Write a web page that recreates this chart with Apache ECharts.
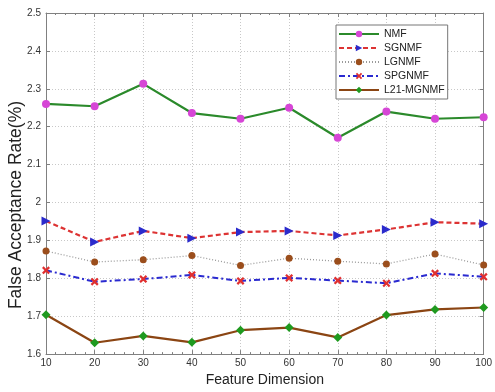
<!DOCTYPE html>
<html>
<head>
<meta charset="utf-8">
<script src="https://cdn.jsdelivr.net/npm/echarts@6/dist/echarts.min.js"></script>
<style>html,body{margin:0;padding:0;background:#fff;}#c{width:495px;height:392px;}</style>
</head>
<body>
<div id="c"></div>
<script>
const dims = [10, 20, 30, 40, 50, 60, 70, 80, 90, 100];
const nmf    = [2.260, 2.254, 2.313, 2.236, 2.221, 2.250, 2.171, 2.240, 2.221, 2.225];
const sgnmf  = [1.951, 1.896, 1.925, 1.906, 1.922, 1.925, 1.913, 1.929, 1.948, 1.944];
const lgnmf  = [1.872, 1.843, 1.849, 1.860, 1.834, 1.853, 1.845, 1.838, 1.864, 1.835];
const spgnmf = [1.821, 1.791, 1.798, 1.809, 1.793, 1.801, 1.794, 1.787, 1.813, 1.804];
const l21    = [1.704, 1.630, 1.648, 1.631, 1.663, 1.670, 1.644, 1.703, 1.718, 1.723];
const names  = ['NMF', 'SGNMF', 'LGNMF', 'SPGNMF', 'L21-MGNMF'];
const yTicks = [1.6, 1.7, 1.8, 1.9, 2, 2.1, 2.2, 2.3, 2.4, 2.5];
const xTitle = 'Feature Dimension';
const yTitle = 'False Acceptance Rate(%)';

const pair = arr => dims.map((d, i) => [d, arr[i]]);
const crossPath = 'path://M0,2 L2,0 L5,3 L8,0 L10,2 L7,5 L10,8 L8,10 L5,7 L2,10 L0,8 L3,5 Z';
const FONT = 'Liberation Sans, Arial, sans-serif';

const chart = echarts.init(document.getElementById('c'));
const axisCommon = {
  axisLine: { show: true, lineStyle: { color: '#808080', width: 1 } },
  axisTick: { show: true, inside: true, length: 4, lineStyle: { color: '#808080' } },
  minorTick: { show: true, splitNumber: 5, length: 2, lineStyle: { color: '#808080' } }
};
chart.setOption({
  animation: false,
  backgroundColor: '#fff',
  grid: { left: 46, right: 9, top: 13, bottom: 35 },
  legend: {
    orient: 'vertical', left: 336, top: 25,
    itemWidth: 40, itemHeight: 8, itemGap: 0,
    backgroundColor: '#fff', borderColor: '#777', borderWidth: 1,
    padding: [2, 3, 2, 2],
    textStyle: { fontFamily: FONT, fontSize: 10.5, color: '#222', lineHeight: 14 },
    data: names
  },
  graphic: [{
    type: 'text', x: 16, y: 205, rotation: Math.PI / 2,
    style: { text: yTitle, font: '17.5px ' + FONT, fill: '#222', textAlign: 'center', textVerticalAlign: 'middle' }
  }],
  xAxis: [{
    type: 'value', min: 10, max: 100, interval: 10,
    name: xTitle, nameLocation: 'middle', nameGap: 18,
    nameTextStyle: { fontFamily: FONT, fontSize: 14, color: '#222' },
    axisLabel: { fontFamily: FONT, fontSize: 10, color: '#333', margin: 4 },
    splitLine: { show: true, lineStyle: { color: '#c8c8c8', type: [1, 2] } },
    ...axisCommon
  }, {
    type: 'value', min: 10, max: 100, interval: 10, position: 'top',
    axisLabel: { show: false }, splitLine: { show: false },
    ...axisCommon
  }],
  yAxis: [{
    type: 'value', min: 1.6, max: 2.5, interval: 0.1,
    axisLabel: { fontFamily: FONT, fontSize: 10, color: '#333', margin: 5,
      formatter: v => { const t = yTicks.find(k => Math.abs(k - v) < 1e-6); return t === undefined ? '' : String(t); } },
    splitLine: { show: true, lineStyle: { color: '#c8c8c8', type: [1, 2] } },
    ...axisCommon, minorTick: { show: false }
  }, {
    type: 'value', min: 1.6, max: 2.5, interval: 0.1, position: 'right',
    axisLabel: { show: false }, splitLine: { show: false },
    ...axisCommon, minorTick: { show: false }
  }],
  series: [
    { name: 'NMF', type: 'line', data: pair(nmf), symbol: 'circle', symbolSize: 8,
      lineStyle: { color: '#2b8a2b', width: 2.2 }, itemStyle: { color: '#d646d6' } },
    { name: 'SGNMF', type: 'line', data: pair(sgnmf), symbol: 'triangle', symbolRotate: -90, symbolSize: 9,
      lineStyle: { color: '#dd3333', width: 2.2, type: [5, 3] }, itemStyle: { color: '#2b2bcc' } },
    { name: 'LGNMF', type: 'line', data: pair(lgnmf), symbol: 'circle', symbolSize: 7,
      lineStyle: { color: '#9a9a9a', width: 1.3, type: [1, 2] }, itemStyle: { color: '#9b4e1c' } },
    { name: 'SPGNMF', type: 'line', data: pair(spgnmf), symbol: crossPath, symbolSize: 8,
      lineStyle: { color: '#2a2ad0', width: 2, type: [6, 3, 2, 3] }, itemStyle: { color: '#e03030' } },
    { name: 'L21-MGNMF', type: 'line', data: pair(l21), symbol: 'diamond', symbolSize: 9,
      lineStyle: { color: '#8b4513', width: 2.2 }, itemStyle: { color: '#1f9a1f' } }
  ]
});
</script>
</body>
</html>
